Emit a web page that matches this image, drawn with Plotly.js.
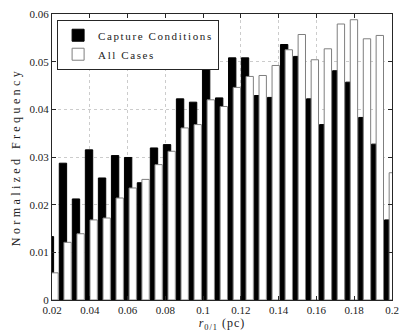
<!DOCTYPE html>
<html>
<head>
<meta charset="utf-8">
<script src="https://cdn.plot.ly/plotly-3.0.1.min.js"></script>
<style>
  html, body { margin: 0; padding: 0; background: #fff; }
  #plot { width: 409px; height: 336px; }
  /* spaced-out lettering like the original figure */
  .legendtext { letter-spacing: 1.6px; }
  .ytitle { letter-spacing: 3.4px; }
  .xtitle { letter-spacing: 1px; }
</style>
</head>
<body>
<div id="plot"></div>
<script>
// bin centres of the histogram (r_0/1 in pc)
const binCenters = [0.0189, 0.0258, 0.0327, 0.0396, 0.0465, 0.0534, 0.0603, 0.0671, 0.0740,
  0.0809, 0.0878, 0.0947, 0.1016, 0.1085, 0.1154, 0.1222, 0.1291, 0.1360, 0.1429,
  0.1498, 0.1567, 0.1636, 0.1705, 0.1774, 0.1843, 0.1911, 0.1980];

// normalized frequency, capture conditions (black)
const captureFreq = [0.0133, 0.0287, 0.0212, 0.0315, 0.0256, 0.0303, 0.0299, 0.0246, 0.0319,
  0.0326, 0.0422, 0.0415, 0.0557, 0.0424, 0.0508, 0.0508, 0.0429, 0.0425, 0.0536,
  0.0511, 0.0422, 0.0368, 0.0481, 0.0457, 0.0383, 0.0327, 0.0168];

// normalized frequency, all cases (white)
const allFreq = [0.0057, 0.0121, 0.0139, 0.0168, 0.0172, 0.0214, 0.0235, 0.0253, 0.0284,
  0.0312, 0.0361, 0.0368, 0.0420, 0.0406, 0.0446, 0.0469, 0.0471, 0.0492, 0.0525,
  0.0557, 0.0504, 0.0527, 0.0579, 0.0588, 0.0548, 0.0555, 0.0267];

const seriesNames = ["Capture Conditions", "All Cases"];

const serif = "Liberation Serif, Times New Roman, serif";

const traces = [
  {
    type: "bar",
    name: seriesNames[0],
    x: binCenters,
    y: captureFreq,
    width: 0.0039,
    offset: -0.00195,
    marker: { color: "#000000", line: { color: "#000000", width: 1 } },
  },
  {
    type: "bar",
    name: seriesNames[1],
    x: binCenters,
    y: allFreq,
    width: 0.0039,
    offset: 0.0005,
    marker: { color: "#ffffff", line: { color: "#7f7f7f", width: 1 } },
  },
];

const axisCommon = {
  showline: true,
  linecolor: "#262626",
  linewidth: 1,
  mirror: "ticks",
  ticks: "inside",
  ticklen: 4,
  tickcolor: "#262626",
  showgrid: true,
  gridcolor: "#cccccc",
  griddash: "dot",
  gridwidth: 1,
  zeroline: false,
  tickfont: { family: serif, size: 11, color: "#222" },
};

const layout = {
  width: 409,
  height: 336,
  margin: { l: 52, r: 17, t: 14, b: 36 },
  paper_bgcolor: "#ffffff",
  plot_bgcolor: "#ffffff",
  barmode: "overlay",
  showlegend: true,
  font: { family: serif, color: "#222" },
  xaxis: Object.assign({}, axisCommon, {
    range: [0.02, 0.2],
    tick0: 0.02,
    dtick: 0.02,
    title: { text: "<i>r</i><sub>0/1</sub> (pc)", font: { family: serif, size: 12 }, standoff: 3 },
  }),
  yaxis: Object.assign({}, axisCommon, {
    range: [0, 0.06],
    tick0: 0,
    dtick: 0.01,
    title: { text: "Normalized Frequency", font: { family: serif, size: 12 }, standoff: 6 },
  }),
  legend: {
    x: 0.015,
    y: 0.98,
    xanchor: "left",
    yanchor: "top",
    bgcolor: "#ffffff",
    bordercolor: "#262626",
    borderwidth: 1,
    font: { family: serif, size: 11 },
    traceorder: "normal",
    tracegroupgap: 0,
  },
};

Plotly.newPlot("plot", traces, layout, { displayModeBar: false, staticPlot: true });
</script>
</body>
</html>
